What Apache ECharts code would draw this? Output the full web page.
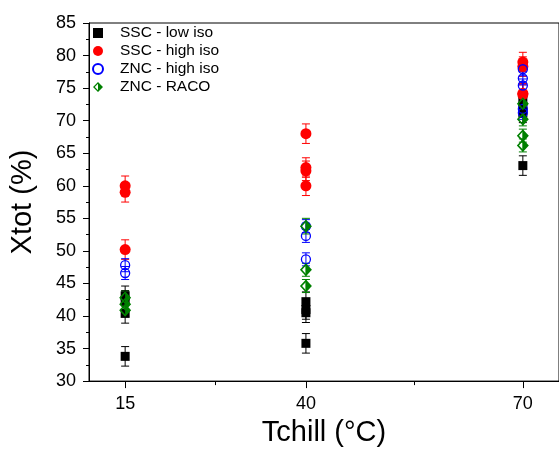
<!DOCTYPE html>
<html>
<head>
<meta charset="utf-8">
<script src="https://cdn.jsdelivr.net/npm/echarts@6/dist/echarts.min.js"></script>
<style>
  html, body { margin: 0; padding: 0; background: #fff; }
  #chart { width: 559px; height: 452px; }
</style>
</head>
<body>
<div id="chart"></div>
<script>
// [Tchill, Xtot, error]
const sscLowIso = [
  [15, 43.1, 1.5], [15, 42.4, 1.5], [15, 40.4, 1.5], [15, 33.8, 1.5],
  [40, 42.2, 1.5], [40, 41.0, 1.5], [40, 40.5, 1.5], [40, 35.8, 1.5],
  [70, 73.0, 1.5], [70, 72.0, 1.5], [70, 71.2, 1.5], [70, 63.1, 1.5]
]
const sscHighIso = [
  [15, 60.0, 1.5], [15, 59.0, 1.5], [15, 50.2, 1.5],
  [40, 68.0, 1.5], [40, 62.8, 1.5], [40, 62.3, 1.5], [40, 60.0, 1.5],
  [70, 79.0, 1.5], [70, 78.3, 1.5], [70, 74.2, 1.5], [70, 74.0, 1.5]
]
const zncHighIso = [
  [15, 47.8, 1.0], [15, 46.6, 1.0],
  [40, 53.8, 1.0], [40, 52.3, 1.0], [40, 48.7, 1.0],
  [70, 77.9, 1.0], [70, 76.5, 1.0], [70, 75.4, 1.0], [70, 71.8, 1.0], [70, 71.2, 1.0]
]
const zncRaco = [
  [15, 42.8, 1.0], [15, 41.8, 1.0], [15, 40.9, 1.0],
  [40, 53.8, 1.2], [40, 47.1, 1.0], [40, 44.6, 1.0],
  [70, 72.6, 1.0], [70, 70.2, 1.0], [70, 67.7, 1.0], [70, 66.2, 1.0]
]
const xLabels = [15, 40, 70]
const xMinorTicks = [27.5, 55]

const font = '"Liberation Sans", Arial, sans-serif'
// outline diamond with the right half filled
const halfDiamond = 'path://M10 0L20 10L10 20L0 10ZM10 3.6L3.6 10L10 16.4L16.4 10ZM10 0L20 10L10 20Z'

const chart = echarts.init(document.getElementById('chart'))

const errorSeries = (data, color) => ({
  type: 'custom',
  data: data,
  z: 1,
  silent: true,
  renderItem: (params, api) => {
    const x = api.value(0), y = api.value(1), e = api.value(2)
    const top = api.coord([x, y + e])
    const bot = api.coord([x, y - e])
    const hw = 4
    const style = { stroke: color, lineWidth: 1 }
    return {
      type: 'group',
      children: [
        { type: 'line', shape: { x1: top[0], y1: top[1], x2: bot[0], y2: bot[1] }, style },
        { type: 'line', shape: { x1: top[0] - hw, y1: top[1], x2: top[0] + hw, y2: top[1] }, style },
        { type: 'line', shape: { x1: bot[0] - hw, y1: bot[1], x2: bot[0] + hw, y2: bot[1] }, style }
      ]
    }
  }
})

const axisText = { color: '#000', fontSize: 18, fontFamily: font }

chart.setOption({
  animation: false,
  backgroundColor: '#fff',
  grid: { left: 86, right: -3, top: 23, bottom: 62, show: true, borderColor: '#000', borderWidth: 1 },
  legend: {
    data: ['SSC - low iso', 'SSC - high iso', 'ZNC - high iso', 'ZNC - RACO'],
    orient: 'vertical',
    left: 87,
    top: 20,
    itemWidth: 10,
    itemHeight: 10,
    itemGap: 2,
    textStyle: { color: '#000', fontSize: 15.5, fontFamily: font, padding: [0, 0, 0, 12] }
  },
  xAxis: [
    {
      type: 'value',
      min: 10,
      max: 75,
      name: 'Tchill (°C)',
      nameLocation: 'middle',
      nameGap: 35,
      nameTextStyle: { color: '#000', fontSize: 29, fontFamily: font },
      splitLine: { show: false },
      axisLine: { lineStyle: { color: '#000', width: 1 } },
      axisTick: { customValues: xLabels, length: 7, lineStyle: { color: '#000' } },
      axisLabel: Object.assign({ customValues: xLabels, margin: 14 }, axisText)
    },
    {
      type: 'value',
      min: 10,
      max: 75,
      position: 'bottom',
      splitLine: { show: false },
      axisLine: { show: false },
      axisTick: { customValues: xMinorTicks, length: 4, lineStyle: { color: '#000' } },
      axisLabel: { show: false }
    }
  ],
  yAxis: {
    type: 'value',
    min: 30,
    max: 85,
    interval: 5,
    name: 'Xtot (%)',
    nameLocation: 'middle',
    nameGap: 52,
    nameTextStyle: { color: '#000', fontSize: 29, fontFamily: font },
    splitLine: { show: false },
    axisLine: { show: true, lineStyle: { color: '#000', width: 1 } },
    axisTick: { length: 6, lineStyle: { color: '#000' } },
    minorTick: { show: true, splitNumber: 2, length: 3, lineStyle: { color: '#000' } },
    axisLabel: Object.assign({ margin: 13 }, axisText)
  },
  series: [
    errorSeries(sscLowIso, '#000'),
    errorSeries(sscHighIso, '#ff0000'),
    errorSeries(zncHighIso, '#0000ff'),
    errorSeries(zncRaco, '#008000'),
    {
      name: 'SSC - low iso',
      type: 'scatter',
      data: sscLowIso,
      symbol: 'rect',
      symbolSize: 9,
      z: 2,
      itemStyle: { color: '#000', opacity: 1 }
    },
    {
      name: 'SSC - high iso',
      type: 'scatter',
      data: sscHighIso,
      symbol: 'circle',
      symbolSize: 11,
      z: 2,
      itemStyle: { color: '#ff0000', opacity: 1 }
    },
    {
      name: 'ZNC - high iso',
      type: 'scatter',
      data: zncHighIso,
      symbol: 'circle',
      symbolSize: 9,
      z: 3,
      itemStyle: { color: 'rgba(0,0,0,0)', borderColor: '#0000ff', borderWidth: 1.3, opacity: 1 }
    },
    {
      name: 'ZNC - RACO',
      type: 'scatter',
      data: zncRaco,
      symbol: halfDiamond,
      symbolSize: [12, 13],
      z: 3,
      itemStyle: { color: '#008000', opacity: 1 }
    }
  ]
})

window.addEventListener('resize', () => chart.resize())
</script>
</body>
</html>
